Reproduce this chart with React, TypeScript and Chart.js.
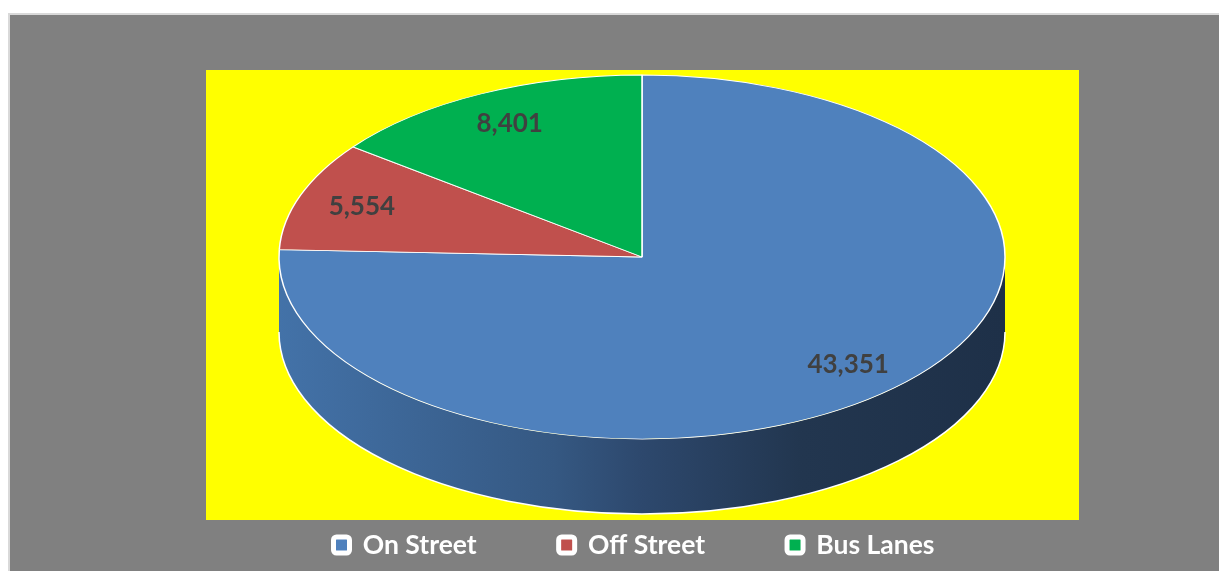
import React, { useEffect, useRef } from 'react';
import { Chart, registerables } from 'chart.js';

Chart.register(...registerables);

// ---- data ----
const categories: string[] = ['On Street', 'Off Street', 'Bus Lanes'];
const counts: number[] = [43351, 5554, 8401];
const sliceColors: string[] = ['#4F81BD', '#C0504D', '#00B050'];
const sideGradients: string[][] = [
  ['#4372A8', '#355882', '#2D486D', '#22364F', '#1E3048'],
  ['#B04A47', '#8E3B39', '#7A3230', '#5E2624', '#552221'],
  ['#00A04A', '#00803B', '#006E33', '#005527', '#004D23'],
];

// ---- geometry / style ----
const CANVAS_W = 1209;
const CANVAS_H = 556;
const PIE_RADIUS = 363;
const TILT = 182 / 363;
const DEPTH = 75;
const LABEL_POS = 0.82;
const PLOT_RECT = { left: 196, top: 55, right: 1069, bottom: 505 };

const plotBg = {
  id: 'plotBg',
  beforeDraw(chart: any, _args: any, opts: any) {
    const ctx = chart.ctx;
    const r = opts.rect;
    ctx.save();
    ctx.fillStyle = opts.color;
    ctx.fillRect(r.left, r.top, r.right - r.left, r.bottom - r.top);
    ctx.restore();
  },
};

const pie3d = {
  id: 'pie3d',
  beforeDatasetsDraw(chart: any, _args: any, opts: any) {
    const ctx = chart.ctx;
    const arcs = chart.getDatasetMeta(0).data;
    if (!arcs.length) return;
    const cx = arcs[0].x;
    const cy = arcs[0].y;
    const rx = arcs[0].outerRadius;
    const ry = rx * opts.tilt;
    const depth = opts.depth;
    ctx.save();
    arcs.forEach((arc: any, i: number) => {
      const a = arc.startAngle;
      const b = arc.endAngle;
      for (let k = -1; k <= 1; k++) {
        const lo = Math.max(a, 2 * Math.PI * k);
        const hi = Math.min(b, Math.PI + 2 * Math.PI * k);
        if (hi <= lo) continue;
        const stops = opts.gradients[i];
        const g = ctx.createLinearGradient(cx - rx, 0, cx + rx, 0);
        const pos = [0, 0.38, 0.5, 0.72, 1];
        stops.forEach((c: string, j: number) => g.addColorStop(pos[j], c));
        ctx.beginPath();
        ctx.ellipse(cx, cy, rx, ry, 0, lo, hi, false);
        ctx.ellipse(cx, cy + depth, rx, ry, 0, hi, lo, true);
        ctx.closePath();
        ctx.fillStyle = g;
        ctx.fill();
        ctx.beginPath();
        ctx.ellipse(cx, cy + depth, rx, ry, 0, lo, hi, false);
        ctx.strokeStyle = '#FFFFFF';
        ctx.lineWidth = 1.5;
        ctx.stroke();
      }
    });
    ctx.restore();
    ctx.save();
    ctx.translate(cx, cy);
    ctx.scale(1, opts.tilt);
    ctx.translate(-cx, -cy);
  },
  afterDatasetsDraw(chart: any, _args: any, opts: any) {
    const ctx = chart.ctx;
    ctx.restore();
    const arcs = chart.getDatasetMeta(0).data;
    const values = chart.data.datasets[0].data as number[];
    ctx.save();
    ctx.font = opts.font;
    ctx.fillStyle = opts.color;
    ctx.textAlign = 'center';
    ctx.textBaseline = 'middle';
    arcs.forEach((arc: any, i: number) => {
      const mid = (arc.startAngle + arc.endAngle) / 2;
      const rx = arc.outerRadius;
      const ry = rx * opts.tilt;
      const x = arc.x + opts.pos * rx * Math.cos(mid);
      const y = arc.y + opts.pos * ry * Math.sin(mid);
      ctx.fillText(values[i].toLocaleString('en-US'), x, y);
    });
    ctx.restore();
  },
};

export default function App() {
  const ref = useRef<HTMLCanvasElement | null>(null);
  useEffect(() => {
    if (!ref.current) return;
    const chart = new Chart(ref.current, {
      type: 'pie',
      data: {
        labels: categories,
        datasets: [
          {
            data: counts,
            backgroundColor: sliceColors,
            borderColor: '#FFFFFF',
            borderWidth: 1.5,
            radius: PIE_RADIUS,
          } as any,
        ],
      },
      options: {
        responsive: false,
        animation: false,
        events: [],
        layout: { padding: { left: 241.5, right: 186.5, top: 49.25, bottom: 2.75 } },
        plugins: {
          tooltip: { enabled: false },
          legend: {
            position: 'bottom',
            align: 'start',
            labels: {
              color: '#FFFFFF',
              font: { family: 'Lato', size: 26.5, weight: 'bold' },
              boxWidth: 16,
              boxHeight: 16,
              padding: 82,
              useBorderRadius: true,
              borderRadius: 3,
              generateLabels: () =>
                categories.map((c, i) => ({
                  text: c,
                  fillStyle: sliceColors[i],
                  strokeStyle: '#FFFFFF',
                  lineWidth: 5,
                  lineJoin: 'round',
                  borderRadius: 3,
                  fontColor: '#FFFFFF',
                  hidden: false,
                  index: i,
                })),
            },
          },
          plotBg: { color: '#FFFF00', rect: PLOT_RECT },
          pie3d: {
            tilt: TILT,
            depth: DEPTH,
            gradients: sideGradients,
            pos: LABEL_POS,
            font: 'bold 26px Lato',
            color: '#404040',
          },
        } as any,
      },
      plugins: [plotBg, pie3d],
    });
    return () => chart.destroy();
  }, []);

  return (
    <div
      style={{
        position: 'fixed',
        left: 8,
        top: 13,
        width: CANVAS_W,
        height: CANVAS_H,
        border: '2px solid #D9D9D9',
        background: '#808080',
      }}
    >
      <canvas ref={ref} width={CANVAS_W} height={CANVAS_H} style={{ display: 'block' }} />
    </div>
  );
}
